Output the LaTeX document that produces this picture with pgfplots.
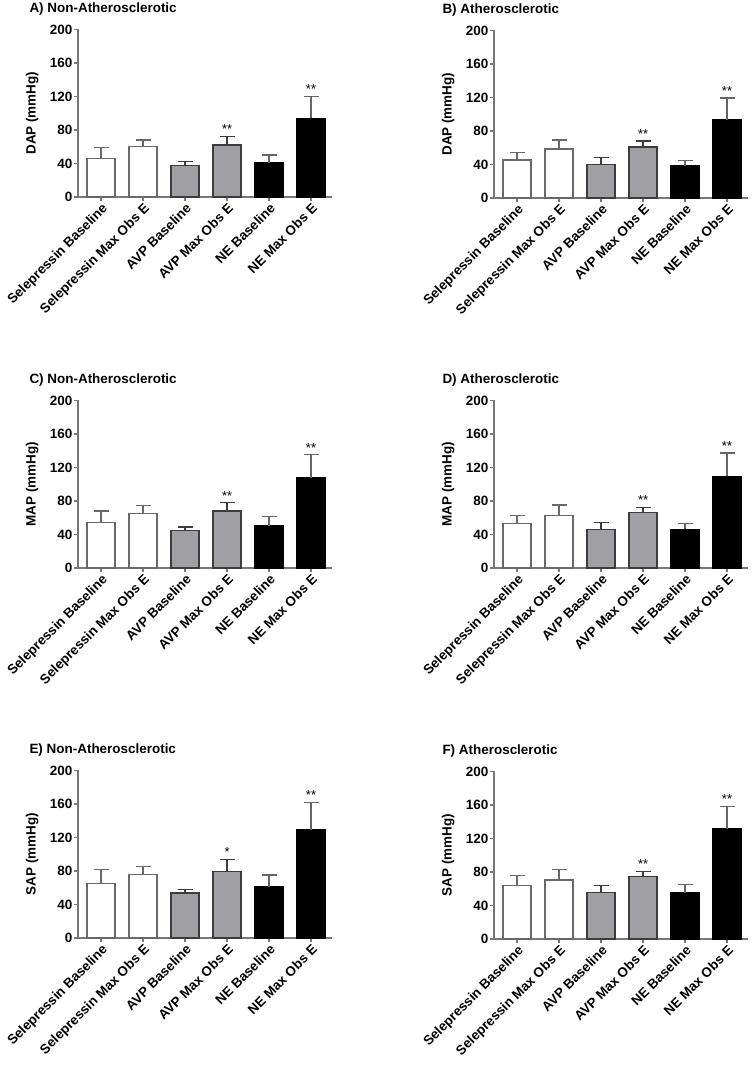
\documentclass[border=0pt]{standalone}
\usepackage{pgfplots}
\pgfplotsset{compat=1.18}
\usepackage{fontspec}
\setmainfont{Liberation Sans}
\definecolor{axiscol}{RGB}{120,120,120}
\definecolor{edgeW}{RGB}{105,105,105}
\definecolor{edgeG}{RGB}{60,60,60}
\definecolor{fillG}{RGB}{160,160,164}
\definecolor{errK}{RGB}{100,100,100}
\pgfplotsset{
  panel/.style={
    scale only axis, width=254bp, height=167.5bp,
    xmin=-0.55, xmax=5.5, ymin=0, ymax=200,
    axis lines*=left,
    axis line style={draw=axiscol, line width=1.4bp},
    ytick={0,40,80,120,160,200}, xtick={0,1,2,3,4,5},
    xticklabels={Selepressin Baseline, Selepressin Max Obs E, AVP Baseline, AVP Max Obs E, NE Baseline, NE Max Obs E},
    tick align=outside, major tick length=4bp,
    tick style={draw=axiscol, line width=1.2bp},
    minor tick num=0,
    tick label style={font=\fontsize{13.5}{14}\selectfont\bfseries},
    /pgf/number format/assume math mode=true,
    yticklabel style={inner sep=1.5bp},
    xticklabel style={rotate=45, anchor=north east, inner sep=1bp},
    every axis y label/.style={at={(axis description cs:-0.18,0.5)}, rotate=90, anchor=center, font=\fontsize{13.5}{14}\selectfont\bfseries},
    every axis title/.style={at={(0,1)}, anchor=base west, yshift=17bp, font=\fontsize{13.5}{14}\selectfont\bfseries},
    clip=false,
  },
  barW/.style={ybar, bar width=28bp, bar shift=0pt, fill=white, draw=edgeW, line width=1.3bp,
    error bars/y dir=plus, error bars/y explicit,
    error bars/error bar style={draw=edgeW, line width=1.3bp},
    error bars/error mark options={rotate=90, draw=edgeW, mark size=7.5bp, line width=1.3bp}},
  barG/.style={ybar, bar width=28bp, bar shift=0pt, fill=fillG, draw=edgeG, line width=1.3bp,
    error bars/y dir=plus, error bars/y explicit,
    error bars/error bar style={draw=edgeG, line width=1.3bp},
    error bars/error mark options={rotate=90, draw=edgeG, mark size=7.5bp, line width=1.3bp}},
  barK/.style={ybar, bar width=28bp, bar shift=0pt, fill=black, draw=black, line width=1.3bp,
    error bars/y dir=plus, error bars/y explicit,
    error bars/error bar style={draw=errK, line width=1.3bp},
    error bars/error mark options={rotate=90, draw=errK, mark size=7.5bp, line width=1.3bp}},
  stars/.style={only marks, mark=*, mark size=0pt, mark options={draw=none, fill=none},
    scatter/use mapped color={draw=none, fill=none},
    nodes near coords, point meta=explicit symbolic,
    nodes near coords style={anchor=south, inner sep=1bp, yshift=1.5bp, font=\fontsize{13}{13}\selectfont}},
}
\begin{document}
\begin{tikzpicture}
\path[use as bounding box] (0,0) rectangle (752bp,1066bp);
% A
\begin{axis}[panel, at={(78bp,869bp)}, anchor=south west,
  title={A) Non-Atherosclerotic}, title style={xshift=-52bp}, ylabel={DAP (mmHg)}]
\addplot[barW] coordinates {(0,46) +- (0,13) (1,60) +- (0,8)};
\addplot[barG] coordinates {(2,38) +- (0,4.5) (3,62) +- (0,10)};
\addplot[barK] coordinates {(4,41) +- (0,9) (5,94) +- (0,26)};
\addplot[stars] coordinates {(3,72) [**] (5,120) [**]};
\end{axis}
% B
\begin{axis}[panel, at={(494bp,868bp)}, anchor=south west,
  title={B) Atherosclerotic}, title style={xshift=-55bp}, ylabel={DAP (mmHg)}]
\addplot[barW] coordinates {(0,45.4) +- (0,8.8) (1,58.6) +- (0,10.7)};
\addplot[barG] coordinates {(2,40.2) +- (0,8) (3,61) +- (0,7.1)};
\addplot[barK] coordinates {(4,38.2) +- (0,6.4) (5,93.6) +- (0,25.9)};
\addplot[stars] coordinates {(3,68.1) [**] (5,119.5) [**]};
\end{axis}
% C
\begin{axis}[panel, at={(78bp,498bp)}, anchor=south west,
  title={C) Non-Atherosclerotic}, title style={xshift=-52bp}, ylabel={MAP (mmHg)}]
\addplot[barW] coordinates {(0,54.2) +- (0,13.8) (1,65.2) +- (0,9.1)};
\addplot[barG] coordinates {(2,45) +- (0,4) (3,68) +- (0,9.9)};
\addplot[barK] coordinates {(4,50.2) +- (0,11.1) (5,107.5) +- (0,27.7)};
\addplot[stars] coordinates {(3,77.9) [**] (5,135.2) [**]};
\end{axis}
% D
\begin{axis}[panel, at={(494bp,498bp)}, anchor=south west,
  title={D) Atherosclerotic}, title style={xshift=-55bp}, ylabel={MAP (mmHg)}]
\addplot[barW] coordinates {(0,53) +- (0,10) (1,63) +- (0,12.2)};
\addplot[barG] coordinates {(2,46) +- (0,8.3) (3,66.1) +- (0,6.4)};
\addplot[barK] coordinates {(4,46) +- (0,7) (5,109.3) +- (0,28.1)};
\addplot[stars] coordinates {(3,72.5) [**] (5,137.4) [**]};
\end{axis}
% E
\begin{axis}[panel, at={(78bp,128bp)}, anchor=south west,
  title={E) Non-Atherosclerotic}, title style={xshift=-52bp}, ylabel={SAP (mmHg)}]
\addplot[barW] coordinates {(0,65) +- (0,17) (1,76) +- (0,9.5)};
\addplot[barG] coordinates {(2,53.9) +- (0,4.3) (3,79.2) +- (0,14.7)};
\addplot[barK] coordinates {(4,61) +- (0,14.2) (5,129.5) +- (0,32.1)};
\addplot[stars] coordinates {(3,93.9) [*] (5,161.6) [**]};
\end{axis}
% F
\begin{axis}[panel, at={(494bp,127bp)}, anchor=south west,
  title={F) Atherosclerotic}, title style={xshift=-55bp}, ylabel={SAP (mmHg)}]
\addplot[barW] coordinates {(0,63.5) +- (0,12.3) (1,70.6) +- (0,12.3)};
\addplot[barG] coordinates {(2,55.5) +- (0,8) (3,74.6) +- (0,6)};
\addplot[barK] coordinates {(4,55.5) +- (0,9.2) (5,131.7) +- (0,26.3)};
\addplot[stars] coordinates {(3,80.6) [**] (5,158) [**]};
\end{axis}
\end{tikzpicture}
\end{document}
